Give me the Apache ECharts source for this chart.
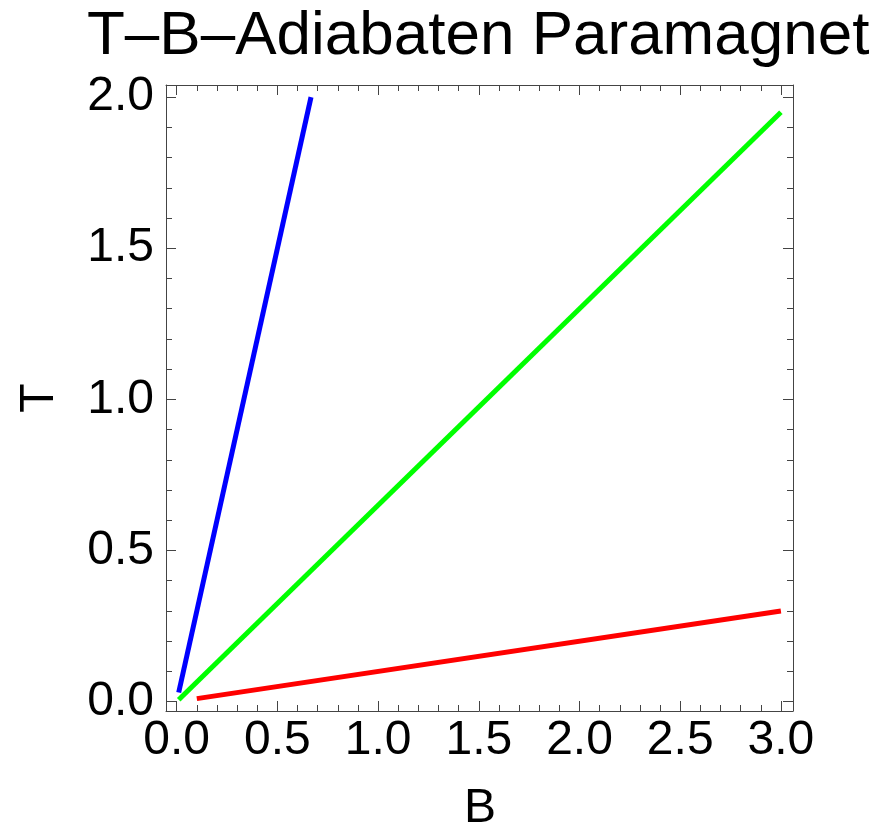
<!DOCTYPE html>
<html>
<head>
<meta charset="utf-8">
<script src="https://cdn.jsdelivr.net/npm/echarts@6/dist/echarts.min.js"></script>
<style>html,body{margin:0;padding:0;background:#fff}#c{width:892px;height:830px}</style>
</head>
<body>
<div id="c"></div>
<script>
// ---- data ----
const titleText = 'T\u2013B\u2013Adiabaten Paramagnet';
const xName = 'B';
const yName = 'T';
const blueB = [0.01, 0.667];
const blueT = [0.03, 2.0];
const greenB = [0.01, 3.0];
const greenT = [0.0065, 1.95];
const redB = [0.1, 3.0];
const redT = [0.01, 0.3];
const xMajor = [0, 0.5, 1.0, 1.5, 2.0, 2.5, 3.0];
const xMinor = [0.1, 0.2, 0.3, 0.4, 0.6, 0.7, 0.8, 0.9, 1.1, 1.2, 1.3, 1.4, 1.6, 1.7, 1.8, 1.9, 2.1, 2.2, 2.3, 2.4, 2.6, 2.7, 2.8, 2.9];
const yMajor = [0, 0.5, 1.0, 1.5, 2.0];
const yMinor = [0.1, 0.2, 0.3, 0.4, 0.6, 0.7, 0.8, 0.9, 1.1, 1.2, 1.3, 1.4, 1.6, 1.7, 1.8, 1.9];

const zip = (a, b) => a.map((v, i) => [v, b[i]]);
const FONT = '"Liberation Sans", Arial, sans-serif';
const frameColor = '#444';
const xMin = -0.053, xMax = 3.06, yMin = -0.031, yMax = 2.04;

function xAx(pos, custom, len, labels, line) {
  return {
    type: 'value', position: pos, min: xMin, max: xMax,
    splitLine: { show: false },
    axisLine: { show: line, onZero: false, lineStyle: { color: frameColor, width: 1 } },
    axisTick: { show: true, inside: true, length: len, customValues: custom, lineStyle: { color: frameColor, width: 1 } },
    axisLabel: labels ? { show: true, customValues: xMajor, formatter: v => v.toFixed(1), color: '#000', fontSize: 48, fontFamily: FONT, margin: 6 } : { show: false }
  };
}
function yAx(pos, custom, len, labels, line) {
  return {
    type: 'value', position: pos, min: yMin, max: yMax,
    splitLine: { show: false },
    axisLine: { show: line, onZero: false, lineStyle: { color: frameColor, width: 1 } },
    axisTick: { show: true, inside: true, length: len, customValues: custom, lineStyle: { color: frameColor, width: 1 } },
    axisLabel: labels ? { show: true, customValues: yMajor, formatter: v => v.toFixed(1), color: '#000', fontSize: 48, fontFamily: FONT, margin: 12 } : { show: false }
  };
}

const chart = echarts.init(document.getElementById('c'), null, { renderer: 'canvas' });
chart.setOption({
  animation: false,
  backgroundColor: '#fff',
  grid: { left: 166, top: 85, right: 99, bottom: 119, containLabel: false },
  xAxis: [
    xAx('bottom', xMajor, 10, true, true),
    xAx('bottom', xMinor, 6, false, false),
    xAx('top', xMajor, 10, false, true),
    xAx('top', xMinor, 6, false, false)
  ],
  yAxis: [
    yAx('left', yMajor, 10, true, true),
    yAx('left', yMinor, 6, false, false),
    yAx('right', yMajor, 10, false, true),
    yAx('right', yMinor, 6, false, false)
  ],
  graphic: [
    { type: 'text', left: 87, top: 6, style: { text: titleText, fontSize: 62, fontFamily: FONT, fill: '#000' } },
    { type: 'text', x: 40, y: 398, rotation: Math.PI / 2, style: { text: yName, fontSize: 48, fontFamily: FONT, fill: '#000', textAlign: 'center', textVerticalAlign: 'middle' } },
    { type: 'text', x: 480, y: 809, style: { text: xName, fontSize: 48, fontFamily: FONT, fill: '#000', textAlign: 'center', textVerticalAlign: 'middle' } }
  ],
  series: [
    { type: 'line', data: zip(blueB, blueT), showSymbol: false, symbol: 'none', clip: false, lineStyle: { color: '#0000ff', width: 5 } },
    { type: 'line', data: zip(greenB, greenT), showSymbol: false, symbol: 'none', clip: false, lineStyle: { color: '#00ff00', width: 5 } },
    { type: 'line', data: zip(redB, redT), showSymbol: false, symbol: 'none', clip: false, lineStyle: { color: '#ff0000', width: 5 } }
  ]
});
</script>
</body>
</html>
